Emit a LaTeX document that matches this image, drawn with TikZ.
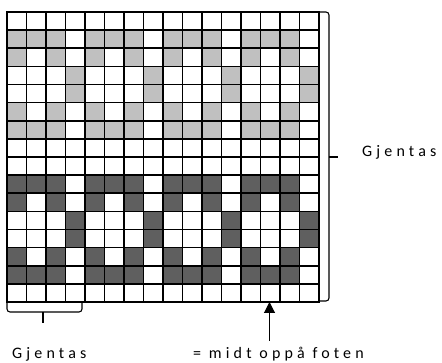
\documentclass[tikz,border=0pt]{standalone}
\usepackage{fontspec}
\setmainfont[LetterSpace=26]{Carlito}
\usetikzlibrary{arrows.meta}

\definecolor{lightband}{RGB}{192,192,192}
\definecolor{darkband}{RGB}{95,95,95}
% filled columns of the three row kinds
\newcommand{\patFull}{0,1,2,4,5,6,8,9,10,12,13,14}
\newcommand{\patDots}{0,2,4,6,8,10,12,14}
\newcommand{\patOne}{3,7,11,15}

\begin{document}
\begin{tikzpicture}[x=1pt,y=-1pt,
  gridline/.style={line width=1.7pt,line cap=rect},
  brace/.style={line width=1.1pt,rounded corners=3pt},
  label/.style={font=\fontsize{16}{18}\selectfont,inner sep=0pt}]
\useasboundingbox (0,0) rectangle (442,363);
% cells
\foreach \r/\c in {1/lightband,6/lightband,9/darkband,14/darkband}
  \foreach \k in \patFull
    \fill[\c] (7+\k*19.5,12+\r*18.125) rectangle ++(19.5,18.125);
\foreach \r/\c in {2/lightband,5/lightband,10/darkband,13/darkband}
  \foreach \k in \patDots
    \fill[\c] (7+\k*19.5,12+\r*18.125) rectangle ++(19.5,18.125);
\foreach \r/\c in {3/lightband,4/lightband,11/darkband,12/darkband}
  \foreach \k in \patOne
    \fill[\c] (7+\k*19.5,12+\r*18.125) rectangle ++(19.5,18.125);
% grid
\foreach \i in {0,...,16} {
  \draw[gridline] (7+\i*19.5,12) -- (7+\i*19.5,302);
  \draw[gridline] (7,12+\i*18.125) -- (319,12+\i*18.125);
}
% right brace
\coordinate (rmid) at (329,157);
\coordinate (rtick) at (338,157);
\draw[brace] (320,12) -- (329,12) -- (329,301) -- (320,301);
\draw[line width=1.1pt] (rmid) -- (rtick);
\node[label,anchor=base west] (repright) at (362,157) {Gjentas};
% bottom brace
\coordinate (bmid) at (43,312);
\coordinate (btick) at (43,323);
\draw[brace] (7,302) -- (7,312) -- (82,312) -- (82,302);
\draw[line width=1.1pt] (bmid) -- (btick);
\node[label,anchor=base west] (repbottom) at (12,358.5) {Gjentas};
% middle of the foot
\coordinate (arrowtip) at (269.5,302);
\coordinate (arrowfoot) at (269.5,341);
\draw[line width=1.1pt,-{Triangle[width=11pt,length=11pt]}] (arrowfoot) -- (arrowtip);
\node[label,anchor=base west] (midfoot) at (193,358.5) {= midt oppå foten};
\end{tikzpicture}
\end{document}
